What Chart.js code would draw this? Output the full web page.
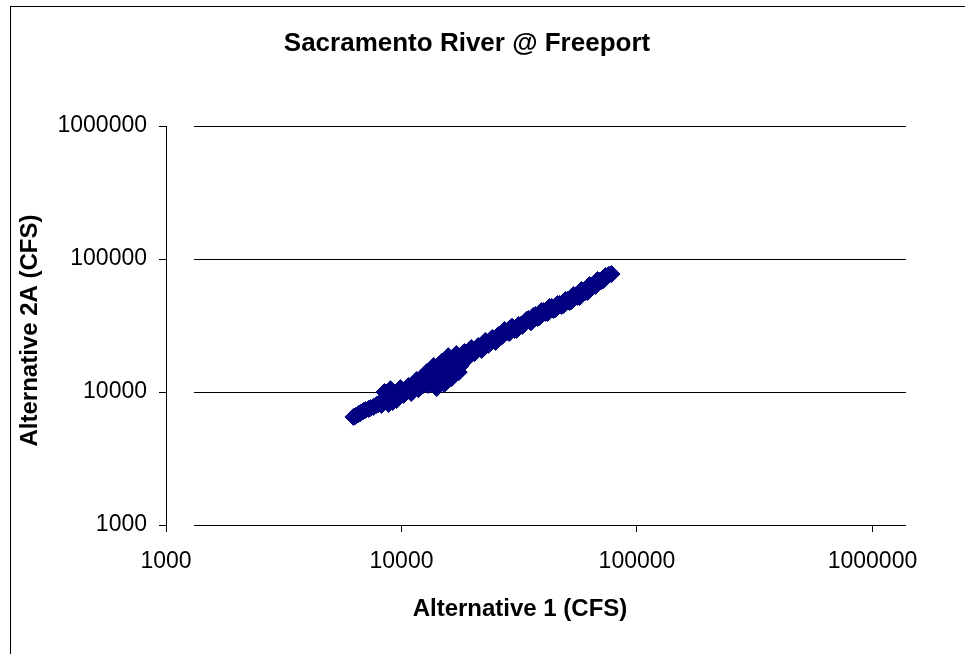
<!DOCTYPE html>
<html>
<head>
<meta charset="utf-8">
<title>Sacramento River @ Freeport</title>
<script src="https://cdn.jsdelivr.net/npm/chart.js@4.4.1/dist/chart.umd.min.js"></script>
<style>
  html, body { margin: 0; padding: 0; background: #fff; overflow: hidden; }
  #wrap { position: relative; width: 965px; height: 654px; }
  #wrap canvas { position: absolute; left: 0; top: 0; }
  /* chart frame: only its left and top edges fall inside the page */
  #frame { position: absolute; left: 10px; top: 6px; width: 1000px; height: 700px;
           border: 1px solid #000; box-sizing: border-box; pointer-events: none; }
</style>
</head>
<body>
<div id="wrap">
  <canvas id="chart" width="965" height="654"></canvas>
  <div id="frame"></div>
</div>
<script>
// Daily flows (CFS): Alternative 1 vs Alternative 2A
const alt1Flow = [
  6250, 6380, 6570, 6700, 6900, 7030, 7240, 7390, 7600, 7830, 7990, 8220, 8470, 8640, 8810, 8980,
  9250, 9520, 9160, 9710, 9900, 10200, 10500, 10700, 11000, 11200, 11600, 11800, 12200, 12400,
  12800, 13000, 13300, 13700, 13800, 14100, 14400, 14600, 14800, 15100, 15200, 15500, 15800, 16100,
  16300, 16600, 16800, 17100, 17500, 17800, 18000, 18200, 18500, 18900, 19300, 19400, 19800, 20400,
  20800, 21200, 21900, 22300, 22700, 23400, 23900, 24300, 25100, 25300, 25800, 26300, 26800, 27400,
  27600, 28200, 28700, 29300, 29600, 30200, 30800, 31400, 32000, 32600, 33300, 33900, 34600, 35300,
  35600, 36300, 37100, 37800, 38500, 39300, 40100, 40900, 41700, 42500, 43400, 44200, 45100, 46000,
  46900, 47800, 48800, 49700, 50700, 51700, 52700, 53800, 54800, 55900, 57000, 58100, 59300, 60400,
  61700, 62900, 64100, 65400, 66700, 68000, 69300, 70700, 72100, 73500, 75000, 76400, 78000];
const alt2aFlow = [
  6490, 6600, 6830, 6950, 7200, 7320, 7450, 7580, 7710, 7990, 8130, 7990, 10000, 9010, 8130, 10500,
  9330, 8710, 8410, 9660, 10700, 9490, 10400, 11100, 9830, 10900, 12300, 10500, 12700, 11300,
  14100, 11300, 12300, 15700, 12700, 10700, 13700, 12300, 16800, 14600, 11500, 14600, 18600, 15200,
  12700, 13200, 16200, 19300, 14100, 15700, 17400, 18600, 20000, 17700, 18600, 20300, 21400, 19600,
  21100, 22200, 20700, 21800, 24200, 22600, 24200, 25500, 23800, 25000, 26800, 26800, 26400, 29300,
  28700, 28300, 27800, 30800, 30800, 29300, 29300, 31900, 31900, 31400, 33000, 34800, 35400, 33600,
  33600, 37300, 37900, 36000, 36600, 40600, 40600, 39300, 39300, 43600, 43600, 41400, 42100, 45900,
  45900, 44300, 45100, 49200, 49200, 47500, 48300, 53600, 52700, 51800, 51800, 58500, 57400, 56500,
  56500, 63700, 61600, 62700, 62700, 69500, 68300, 68300, 69500, 74500, 74500, 76500, 77100];

const xTickValues = [1000, 10000, 100000, 1000000];
const xTickLabels = ['1000', '10000', '100000', '1000000'];
const yTickValues = [1000, 10000, 100000, 1000000];
const yTickLabels = ['1000', '10000', '100000', '1000000'];

const FONT = '"Liberation Sans", Arial, Helvetica, sans-serif';
const X_AXIS_MAX = 1388000; // horizontal axis runs a little past the 1000000 tick
const GRID_INSET = 28;      // horizontal gridlines start a little right of the value axis
const X_TITLE = 'Alternative 1 (CFS)';
const Y_TITLE = 'Alternative 2A (CFS)';

const points = alt1Flow.map((x, i) => ({ x: x, y: alt2aFlow[i] }));

// Horizontal gridlines (the 1000 line doubles as the category axis line)
const insetGrid = {
  id: 'insetGrid',
  beforeDatasetsDraw(chart) {
    const { ctx, chartArea, scales } = chart;
    ctx.save();
    ctx.strokeStyle = '#000';
    ctx.lineWidth = 1;
    yTickValues.forEach(v => {
      const py = Math.round(scales.y.getPixelForValue(v)) + 0.5;
      ctx.beginPath();
      ctx.moveTo(chartArea.left + GRID_INSET, py);
      ctx.lineTo(chartArea.right, py);
      ctx.stroke();
    });
    ctx.restore();
  }
};

// Axis captions
const axisCaptions = {
  id: 'axisCaptions',
  afterDraw(chart) {
    const { ctx, chartArea } = chart;
    ctx.save();
    ctx.fillStyle = '#000';
    ctx.font = 'bold 24px ' + FONT;
    ctx.textAlign = 'center';
    ctx.textBaseline = 'middle';
    ctx.fillText(X_TITLE, (chartArea.left + chartArea.right) / 2 - 16, chartArea.bottom + 84);
    ctx.translate(30, (chartArea.top + chartArea.bottom) / 2 + 5);
    ctx.rotate(-Math.PI / 2);
    ctx.fillText(Y_TITLE, 0, 0);
    ctx.restore();
  }
};

new Chart(document.getElementById('chart'), {
  type: 'scatter',
  data: {
    datasets: [{
      data: points,
      backgroundColor: '#000080',
      borderColor: '#000080',
      borderWidth: 1,
      pointStyle: 'rectRot',
      pointRadius: 8.5,
      pointHoverRadius: 8.5
    }]
  },
  options: {
    responsive: false,
    animation: false,
    events: [],
    devicePixelRatio: 1,
    layout: { padding: { top: 0, right: 59, bottom: 0, left: 28 } },
    plugins: {
      legend: { display: false },
      tooltip: { enabled: false },
      title: {
        display: true,
        text: 'Sacramento River @ Freeport',
        color: '#000',
        font: { family: FONT, size: 26, weight: 'bold' },
        padding: { top: 28, bottom: 66.8 }
      }
    },
    scales: {
      x: {
        type: 'logarithmic',
        position: 'bottom',
        min: 1000,
        max: X_AXIS_MAX,
        afterBuildTicks: s => { s.ticks = xTickValues.map(v => ({ value: v })); },
        afterFit: s => { s.height = 129; },
        border: { display: false },
        grid: { drawOnChartArea: false, drawTicks: true, tickLength: 7, color: '#000', lineWidth: 1 },
        ticks: {
          color: '#000',
          padding: 16,
          autoSkip: false,
          maxRotation: 0,
          font: { family: FONT, size: 23 },
          callback: (v, i) => xTickLabels[i]
        },
        title: { display: false }
      },
      y: {
        type: 'logarithmic',
        position: 'left',
        min: 1000,
        max: 1000000,
        afterBuildTicks: s => { s.ticks = yTickValues.map(v => ({ value: v })); },
        afterFit: s => { s.width = 138; },
        border: { display: true, color: '#000', width: 1 },
        grid: { drawOnChartArea: false, drawTicks: true, tickLength: 7, color: '#000', lineWidth: 1 },
        ticks: {
          color: '#000',
          padding: 12,
          autoSkip: false,
          font: { family: FONT, size: 23 },
          callback: (v, i) => yTickLabels[i]
        },
        title: { display: false }
      }
    }
  },
  plugins: [insetGrid, axisCaptions]
});
</script>
</body>
</html>
